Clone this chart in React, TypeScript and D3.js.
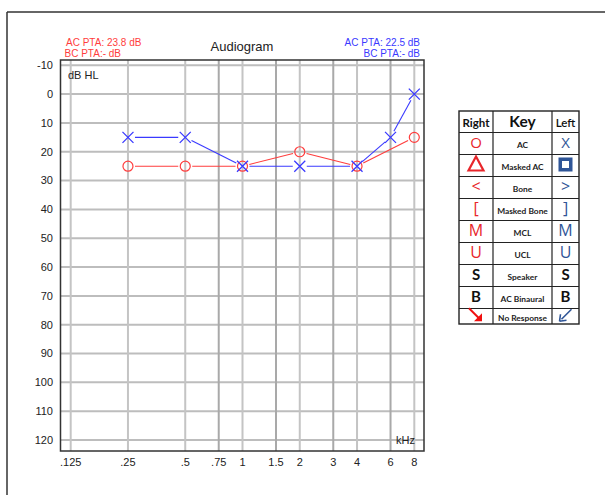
import React from "react";
import * as d3 from "d3";

// Test frequencies (kHz) and their axis labels
const freqTicks = [0.125, 0.25, 0.5, 0.75, 1, 1.5, 2, 3, 4, 6, 8];
const freqLabels = [".125", ".25", ".5", ".75", "1", "1.5", "2", "3", "4", "6", "8"];
const octaveFreqs = [0.125, 0.25, 0.5, 1, 2, 4, 8];
const dbTicks = [-10, 0, 10, 20, 30, 40, 50, 60, 70, 80, 90, 100, 110, 120];

// Right ear, air conduction (O)
const rightFreqs = [0.25, 0.5, 1, 2, 4, 8];
const rightDb = [25, 25, 25, 20, 25, 15];
// Left ear, air conduction (X)
const leftFreqs = [0.25, 0.5, 1, 2, 4, 6, 8];
const leftDb = [15, 15, 25, 25, 25, 15, 0];

const legendRows = ["AC", "Masked AC", "Bone", "Masked Bone", "MCL", "UCL", "Speaker", "AC Binaural", "No Response"];
const legendRightSym = ["O", "tri", "<", "[", "M", "U", "S", "B", "arrowR"];
const legendLeftSym = ["X", "sq", ">", "]", "M", "U", "S", "B", "arrowL"];

const RED = "#ff3d3d";
const BLUE = "#3a3aff";
const LRED = "#e8262b";
const LBLUE = "#2f5597";

const plot = { left: 60.5, right: 424, top: 60, bottom: 451 };

function segments(pts: [number, number][], gap: number) {
  const out: [number, number, number, number][] = [];
  for (let i = 0; i < pts.length - 1; i++) {
    const [x1, y1] = pts[i];
    const [x2, y2] = pts[i + 1];
    const len = Math.hypot(x2 - x1, y2 - y1);
    if (len <= gap * 2) continue;
    const ux = (x2 - x1) / len, uy = (y2 - y1) / len;
    out.push([x1 + ux * gap, y1 + uy * gap, x2 - ux * gap, y2 - uy * gap]);
  }
  return out;
}

export default function App() {
  const x = d3.scaleLog().base(2).domain([0.125, 8]).range([70.7, 414.3]);
  const y = d3.scaleLinear().domain([-10, 120]).range([65.3, 440]);

  const rightPts: [number, number][] = rightFreqs.map((f, i) => [x(f), y(rightDb[i])]);
  const leftPts: [number, number][] = leftFreqs.map((f, i) => [x(f), y(leftDb[i])]);

  const sans = "'Liberation Sans', Arial, sans-serif";
  const keyFont = "Lato, 'Open Sans', sans-serif";

  // Key table geometry
  const tL = 459, tR = 579, c1 = 493, c2 = 552, tTop = 111, hdrB = 132.5;
  const rowH = 22;
  const rowTops = legendRows.map((_, i) => hdrB + i * rowH);
  const tBot = 324;

  const symbolSize: Record<string, number> = { O: 15, X: 15, "<": 16, ">": 16, "[": 16, "]": 16, M: 16, U: 16, S: 15, B: 15 };

  const symbol = (s: string, cx: number, cy: number, side: "R" | "L", key: string) => {
    const col = side === "R" ? LRED : LBLUE;
    if (s === "tri") {
      return <path key={key} d={`M${cx},${cy - 8} L${cx + 7.5},${cy + 6} L${cx - 7.5},${cy + 6} Z`} fill="none" stroke={LRED} strokeWidth={2.2} />;
    }
    if (s === "sq") {
      return (
        <g key={key}>
          <rect x={cx - 7} y={cy - 7} width={14} height={14} fill={LBLUE} />
          <rect x={cx - 3.5} y={cy - 3.5} width={7} height={7} fill="#fff" />
        </g>
      );
    }
    if (s === "arrowR") {
      return (
        <g key={key}>
          <line x1={cx - 7} y1={cy - 7} x2={cx + 3} y2={cy + 3} stroke="#f01010" strokeWidth={2} />
          <path d={`M${cx + 6},${cy + 6} L${cx + 6},${cy - 2} L${cx - 2},${cy + 6} Z`} fill="#f01010" />
        </g>
      );
    }
    if (s === "arrowL") {
      return (
        <g key={key}>
          <line x1={cx + 6} y1={cy - 6} x2={cx - 4} y2={cy + 4} stroke={LBLUE} strokeWidth={1.6} />
          <path d={`M${cx - 6},${cy + 6} L${cx - 5},${cy - 1} M${cx - 6},${cy + 6} L${cx + 1},${cy + 5}`} stroke={LBLUE} strokeWidth={1.6} fill="none" />
        </g>
      );
    }
    const black = s === "S" || s === "B";
    return (
      <text key={key} x={cx} y={cy} dy="0.36em" textAnchor="middle" fontFamily={black ? keyFont : "'Open Sans', sans-serif"}
        fontWeight={black ? 700 : 400} fontSize={symbolSize[s] ?? 15} fill={black ? "#111" : col}>
        {s}
      </text>
    );
  };

  return (
    <svg width={605} height={495} style={{ position: "absolute", left: 0, top: 0, background: "#fff" }}>
      {/* outer frame */}
      <line x1={7} y1={12} x2={605} y2={12} stroke="#333" strokeWidth={1.5} />
      <line x1={7} y1={12} x2={7} y2={495} stroke="#333" strokeWidth={1.5} />

      {/* header text */}
      <text x={242} y={51} textAnchor="middle" fontFamily={sans} fontSize={13} fill="#222">Audiogram</text>
      <text x={66} y={46} fontFamily={sans} fontSize={10} fill={RED}>AC PTA: 23.8 dB</text>
      <text x={64.5} y={57} fontFamily={sans} fontSize={10} fill={RED}>BC PTA:- dB</text>
      <text x={420} y={46} textAnchor="end" fontFamily={sans} fontSize={10} fill={BLUE}>AC PTA: 22.5 dB</text>
      <text x={420} y={57} textAnchor="end" fontFamily={sans} fontSize={10} fill={BLUE}>BC PTA:- dB</text>

      {/* grid */}
      {dbTicks.map((d) => (
        <line key={`h${d}`} x1={plot.left} x2={plot.right} y1={y(d)} y2={y(d)} stroke="#bdbdbd" strokeWidth={2} />
      ))}
      {freqTicks.map((f) => (
        <line key={`v${f}`} x1={x(f)} x2={x(f)} y1={plot.top} y2={plot.bottom}
          stroke={octaveFreqs.includes(f) ? "#c4c4c4" : "#a9a9a9"} strokeWidth={2} />
      ))}
      <rect x={plot.left} y={plot.top} width={plot.right - plot.left} height={plot.bottom - plot.top} fill="none" stroke="#333" strokeWidth={1.5} />

      {/* axis labels */}
      {dbTicks.map((d) => (
        <text key={`yl${d}`} x={53} y={y(d)} dy="0.35em" textAnchor="end" fontFamily={sans} fontSize={11} fill="#222">{d}</text>
      ))}
      {freqTicks.map((f, i) => (
        <text key={`xl${f}`} x={x(f)} y={466} textAnchor="middle" fontFamily={sans} fontSize={11} fill="#222">{freqLabels[i]}</text>
      ))}
      <text x={68} y={79} fontFamily={sans} fontSize={11} fill="#222">dB HL</text>
      <text x={396} y={444} fontFamily={sans} fontSize={11} fill="#222">kHz</text>

      {/* right ear */}
      {segments(rightPts, 7).map((s, i) => (
        <line key={`rs${i}`} x1={s[0]} y1={s[1]} x2={s[2]} y2={s[3]} stroke={RED} strokeWidth={1.1} />
      ))}
      {rightPts.map(([cx, cy], i) => (
        <circle key={`rc${i}`} cx={cx} cy={cy} r={5} fill="none" stroke={RED} strokeWidth={1.2} />
      ))}
      {/* left ear */}
      {segments(leftPts, 7).map((s, i) => (
        <line key={`ls${i}`} x1={s[0]} y1={s[1]} x2={s[2]} y2={s[3]} stroke={BLUE} strokeWidth={1.1} />
      ))}
      {leftPts.map(([cx, cy], i) => (
        <path key={`lx${i}`} d={`M${cx - 5.5},${cy - 5.5} L${cx + 5.5},${cy + 5.5} M${cx + 5.5},${cy - 5.5} L${cx - 5.5},${cy + 5.5}`} stroke={BLUE} strokeWidth={1.3} />
      ))}

      {/* symbol key */}
      <g>
        <rect x={tL} y={tTop} width={tR - tL} height={tBot - tTop} fill="#fff" stroke="#222" strokeWidth={1.4} />
        <line x1={c1} x2={c1} y1={tTop} y2={tBot} stroke="#222" strokeWidth={1.2} />
        <line x1={c2} x2={c2} y1={tTop} y2={tBot} stroke="#222" strokeWidth={1.2} />
        <line x1={tL} x2={tR} y1={hdrB} y2={hdrB} stroke="#222" strokeWidth={1.2} />
        {rowTops.slice(1).map((t, i) => (
          <line key={`rl${i}`} x1={tL} x2={tR} y1={t} y2={t} stroke="#222" strokeWidth={1.1} />
        ))}
        <text x={(tL + c1) / 2} y={126.5} textAnchor="middle" fontFamily={keyFont} fontWeight={700} fontSize={11.5} fill="#111">Right</text>
        <text x={(c1 + c2) / 2} y={127} textAnchor="middle" fontFamily={keyFont} fontWeight={700} fontSize={15.5} fill="#111">Key</text>
        <text x={(c2 + tR) / 2} y={126.5} textAnchor="middle" fontFamily={keyFont} fontWeight={600} fontSize={11.5} fill="#111">Left</text>
        {legendRows.map((label, i) => {
          const top = rowTops[i];
          const bot = i === legendRows.length - 1 ? tBot : rowTops[i] + rowH;
          const cy = (top + bot) / 2;
          return (
            <g key={`row${i}`}>
              {symbol(legendRightSym[i], (tL + c1) / 2, cy - 1, "R", `rs${i}`)}
              <text x={(c1 + c2) / 2} y={cy + 2} dy="0.35em" textAnchor="middle" fontFamily={keyFont} fontWeight={700} fontSize={8.4} fill="#222">{label}</text>
              {symbol(legendLeftSym[i], (c2 + tR) / 2, cy - 1, "L", `ls${i}`)}
            </g>
          );
        })}
      </g>
    </svg>
  );
}
